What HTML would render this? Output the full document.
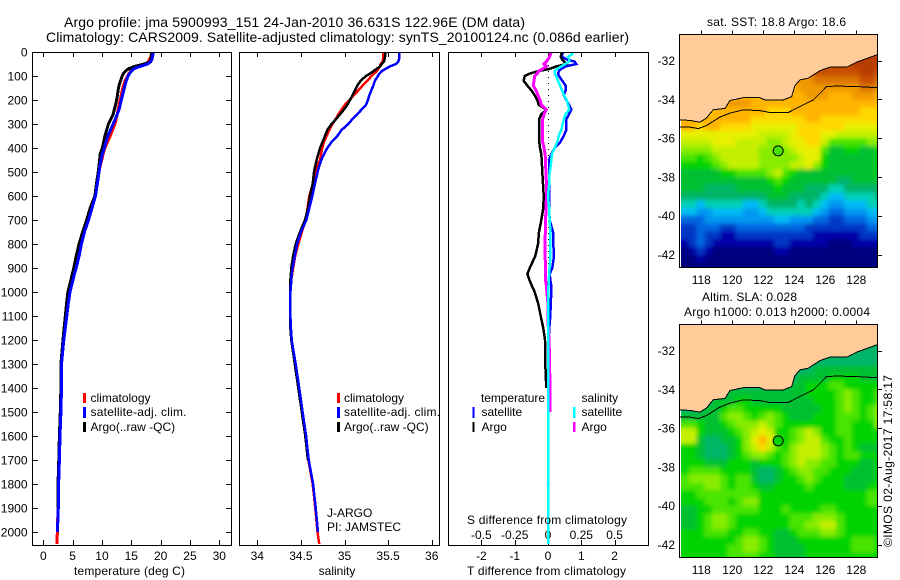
<!DOCTYPE html>
<html>
<head>
<meta charset="utf-8">
<title>Argo profile</title>
<style>
html,body{margin:0;padding:0;background:#fff;width:900px;height:580px;overflow:hidden}
svg{display:block}
text{font-family:"Liberation Sans",sans-serif;font-size:12px;fill:#000}
.t{font-size:14px}
</style>
</head>
<body>
<svg id="chart" xmlns="http://www.w3.org/2000/svg" width="900" height="580" viewBox="0 0 900 580">
<defs>
<filter id="soft" filterUnits="userSpaceOnUse" x="640" y="0" width="260" height="580"><feGaussianBlur stdDeviation="2.1"/></filter>
<clipPath id="clipMap1"><rect x="681" y="34.5" width="197" height="233"/></clipPath>
<clipPath id="clipMap2"><rect x="681" y="324.5" width="197" height="233"/></clipPath>
<clipPath id="clipFrame1"><rect x="680" y="34.5" width="198" height="233"/></clipPath>
<clipPath id="clipFrame2"><rect x="680" y="324.5" width="198" height="233"/></clipPath>
</defs>
<rect width="900" height="580" fill="#fff"/>
<text class="t" x="64" y="27" textLength="461">Argo profile: jma 5900993_151 24-Jan-2010 36.631S 122.96E (DM data)</text>
<text class="t" x="46" y="42" textLength="583">Climatology: CARS2009. Satellite-adjusted climatology: synTS_20100124.nc (0.086d earlier)</text>

<g id="p1"></g>
<g id="p2"></g>
<g id="p3"></g>
<g id="m1"></g>
<g id="m2"></g>

<rect x="32.5" y="52.5" width="199" height="493" fill="none" stroke="#000"/>
<rect x="239.5" y="52.5" width="200" height="493" fill="none" stroke="#000"/>
<rect x="448.5" y="52.5" width="200" height="493" fill="none" stroke="#000"/>
<rect x="679.5" y="34.5" width="198" height="233" fill="none" stroke="#000"/>
<rect x="679.5" y="324.5" width="198" height="233" fill="none" stroke="#000"/>

<text x="74" y="575" textLength="111">temperature (deg C)</text>
<text x="337" y="575" text-anchor="middle">salinity</text>
<text x="467" y="575" textLength="159">T difference from climatology</text>
<text x="467" y="524" textLength="160">S difference from climatology</text>

<g>
<rect x="83" y="393" width="3" height="10" fill="#f00"/>
<text x="90.5" y="402">climatology</text>
<rect x="83" y="407" width="3" height="11" fill="#00f"/>
<text x="90.5" y="416" textLength="96">satellite-adj. clim.</text>
<rect x="83" y="422" width="3" height="10" fill="#000"/>
<text x="90.5" y="431">Argo(..raw -QC)</text>
</g>
<g>
<rect x="337" y="393" width="3" height="10" fill="#f00"/>
<text x="344" y="402">climatology</text>
<rect x="337" y="407" width="3" height="11" fill="#00f"/>
<text x="344" y="416" textLength="96">satellite-adj. clim.</text>
<rect x="337" y="422" width="3" height="10" fill="#000"/>
<text x="344" y="431">Argo(..raw -QC)</text>
</g>
<g>
<text x="481" y="402" textLength="64">temperature</text>
<rect x="472.500" y="407" width="2" height="11" fill="#00f"/>
<text x="481.500" y="416">satellite</text>
<rect x="472.500" y="422" width="2" height="10" fill="#000"/>
<text x="481.500" y="431">Argo</text>
<text x="581.500" y="402">salinity</text>
<rect x="573" y="407" width="2.500" height="11" fill="#0ff"/>
<text x="581.500" y="416">satellite</text>
<rect x="573" y="422" width="2.500" height="10" fill="#f0f"/>
<text x="581.500" y="431">Argo</text>
</g>
<text x="327" y="517">J-ARGO</text>
<text x="327" y="531">PI: JAMSTEC</text>

<text x="707" y="26" textLength="139">sat. SST: 18.8 Argo: 18.6</text>
<text x="702" y="301" textLength="95">Altim. SLA: 0.028</text>
<text x="684" y="316" textLength="186">Argo h1000: 0.013 h2000: 0.0004</text>
<text transform="translate(892 547) rotate(-90)" textLength="172">©IMOS 02-Aug-2017 17:58:17</text>
</svg>

<script>
// ---------- profile data ----------
const depths = [0,10,20,30,40,50,60,70,80,90,100,120,140,160,180,200,220,240,260,280,300,325,350,375,400,425,450,475,500,550,600,650,700,750,800,850,900,925,950,975,1000,1050,1100,1150,1200,1300,1400,1500,1600,1700,1800,1900,2000,2050];
const tempClim = [18.5,18.4,18.3,18.1,17.9,17.5,16.5,15.3,14.9,14.6,14.4,13.95,13.65,13.45,13.3,13.1,12.9,12.75,12.6,12.4,12.2,11.8,11.4,10.95,10.5,10.2,9.95,9.7,9.45,9.05,8.8,8.2,7.6,6.9,6.4,6.0,5.5,5.2,5.0,4.75,4.5,4.2,3.95,3.7,3.45,3.05,3.05,2.95,2.8,2.7,2.55,2.5,2.4,2.3];
const tempSat = [18.7,18.7,18.6,18.55,18.3,17.8,16.5,15.4,15.0,14.7,14.45,14.15,13.9,13.7,13.5,13.3,13.1,12.9,12.6,12.25,11.9,11.45,11.0,10.7,10.4,10.05,9.85,9.65,9.5,9.2,8.9,8.3,7.7,7.0,6.5,6.1,5.6,5.3,5.05,4.8,4.55,4.25,4.0,3.75,3.5,3.1,3.1,3.0,2.85,2.75,2.6,2.55,2.4,null];
const tempArgo = [18.5,18.45,18.4,18.35,18.3,17.2,15.6,14.5,14.0,13.65,13.45,13.15,12.9,12.75,12.65,12.5,12.3,12.1,11.9,11.5,11.1,10.8,10.5,10.3,10.05,9.7,9.6,9.5,9.35,9.05,8.8,8.0,7.4,6.7,6.1,5.6,5.2,4.95,4.7,4.45,4.2,3.95,3.75,3.55,3.35,3.0,3.0,2.9,2.75,2.65,2.5,2.5,null,null];
const salClim = [35.445,35.445,35.441,35.441,35.437,35.414,35.407,35.388,35.369,35.338,35.311,35.261,35.208,35.158,35.109,35.055,35.005,34.967,34.929,34.898,34.860,34.826,34.795,34.765,34.745,34.730,34.719,34.692,34.673,34.635,34.596,34.577,34.554,34.51,34.47,34.435,34.41,34.40,34.39,34.385,34.38,34.38,34.38,34.385,34.39,34.43,34.47,34.51,34.55,34.585,34.635,34.665,34.69,34.71];
const salSat = [35.628,35.628,35.625,35.625,35.617,35.59,35.521,35.472,35.426,35.399,35.384,35.349,35.33,35.307,35.284,35.269,35.246,35.196,35.143,35.089,35.044,34.967,34.917,34.852,34.803,34.765,34.734,34.711,34.692,34.661,34.631,34.596,34.562,34.50,34.455,34.43,34.405,34.395,34.39,34.385,34.38,34.38,34.38,34.385,34.395,34.44,34.48,34.52,34.56,34.59,34.64,34.67,34.695,null];
const salArgo = [35.468,35.468,35.464,35.46,35.453,35.426,35.407,35.369,35.33,35.292,35.246,35.185,35.147,35.12,35.093,35.063,35.032,34.994,34.948,34.902,34.852,34.803,34.776,34.749,34.719,34.70,34.68,34.665,34.65,34.635,34.604,34.581,34.547,34.49,34.44,34.41,34.39,34.385,34.38,34.38,34.375,34.375,34.375,34.38,34.39,34.43,34.47,34.51,34.55,34.58,null,null,null,null];
const diffTSat = [.45,.43,.41,.55,.80,.85,.53,.40,.33,.30,.33,.43,.53,.53,.47,.55,.63,.70,.63,.55,.55,.55,.47,.37,.20,.10,.03,.03,.03,.03,.03,.03,.05,.15,.16,.18,.13,.05,.07,.10,.10,.08,.07,.04,.02,.02,.01,.01,.01,.01,0,0,0,null];
const diffTArgo = [.42,.40,.38,.42,.48,.55,.25,.05,-.30,-.55,-.70,-.73,-.62,-.50,-.40,-.32,-.28,-.05,-.20,-.27,-.27,-.27,-.27,-.26,-.24,-.20,-.19,-.18,-.17,-.15,-.13,-.14,-.20,-.27,-.30,-.38,-.55,-.62,-.56,-.48,-.40,-.29,-.22,-.14,-.09,-.08,-.05,null,null,null,null,null,null,null];
const diffSSat = [.18,.18,.15,.16,.16,.13,.10,.07,.05,.05,.06,.075,.09,.105,.12,.14,.15,.16,.13,.12,.11,.10,.08,.07,.05,.03,.025,.02,.012,.008,0,.008,.012,.018,.018,.018,.012,.008,.006,.004,.003,0,0,0,0,0,0,0,0,0,0,0,0,0];
const diffSArgo = [.025,.018,.012,0,-.012,-.03,-.012,-.04,-.07,-.08,-.10,-.105,-.11,-.09,-.075,-.06,-.05,-.012,-.03,-.04,-.04,-.04,-.04,-.04,-.03,-.022,-.018,-.018,-.015,-.012,-.012,-.015,-.018,-.02,-.022,-.022,-.018,-.02,-.018,-.012,-.008,0,0,.002,.008,.012,.015,.015,null,null,null,null,null,null];

// ---------- tick labels ----------
const depthTicks = [0,100,200,300,400,500,600,700,800,900,1000,1100,1200,1300,1400,1500,1600,1700,1800,1900,2000];
const tempTicks = [0,5,10,15,20,25,30];
const salTicks = [34,34.5,35,35.5,36];
const salTickLabels = ['34','34.5','35','35.5','36'];
const diffTTicks = [-2,-1,0,1,2];
const diffSTicks = [-0.5,-0.25,0,0.25,0.5];
const lonTicks = [118,120,122,124,126,128];
const latTicks = [-32,-34,-36,-38,-40,-42];

// ---------- map data ----------
const gridLon0 = 116.7, gridLat0 = -31.6, gridStep = [0.5, 0.4];
const rampColors = ['#00007f','#0000a8','#0038c4','#0068e0','#0098f0','#00bcf4','#00d0b4','#00b468','#00c030','#00d400','#48e400','#88ec00','#c4f000','#e8f000','#ffd800','#ffb400','#f09800','#dc7400','#c85000','#b83c00'];
const sstGrid = [
[15,15,15,15,16,16,16,16,16,16,16,16,16,16,16,17,17,18,18,18,18,18,19,19,19,19],
[15,15,15,15,16,16,16,16,16,16,16,16,16,16,16,17,17,18,18,18,18,18,19,19,19,19],
[15,15,15,15,16,16,16,16,16,16,16,16,16,16,16,17,17,18,18,18,18,18,18,19,19,18],
[15,15,15,15,16,16,16,16,16,16,16,16,16,16,16,16,16,17,17,17,17,17,17,18,18,17],
[15,15,15,15,16,16,16,16,16,16,16,16,16,16,15,16,16,16,16,16,16,16,16,17,17,16],
[14,14,14,14,15,15,15,15,15,15,15,15,15,15,15,15,16,16,16,15,15,15,16,16,16,15],
[14,14,14,14,15,15,16,16,16,15,15,15,15,15,15,15,15,15,15,15,15,15,15,15,15,15],
[14,14,14,14,15,15,15,15,15,15,15,14,14,14,15,15,15,15,15,15,15,15,15,14,14,14],
[15,15,15,15,15,15,15,15,15,14,14,14,14,14,14,14,15,15,14,14,14,14,14,14,14,14],
[15,15,14,15,15,14,14,14,14,13,13,13,13,13,13,14,14,14,14,14,14,13,13,13,13,13],
[13,13,13,13,13,13,13,13,13,13,12,12,12,12,13,14,14,14,13,13,12,12,12,12,12,12],
[12,12,12,12,13,13,13,12,12,12,12,11,11,12,13,13,14,14,12,10,10,10,10,10,11,11],
[11,11,11,11,12,12,12,12,12,12,11,11,11,11,12,13,13,13,10,8,8,9,9,8,8,9],
[10,10,9,10,11,12,12,12,12,12,11,11,11,11,11,12,13,13,9,8,8,8,8,8,8,9],
[9,9,9,9,10,11,12,12,12,12,11,11,11,11,12,12,13,11,9,8,8,8,8,8,8,9],
[8,8,8,8,8,9,9,10,10,10,10,11,12,10,9,8,8,8,8,8,8,8,8,8,8,9],
[8,8,8,8,8,8,8,8,8,8,8,9,10,9,8,8,8,8,8,8,7,7,8,8,8,8],
[8,8,8,7,7,7,7,8,8,8,8,8,9,8,8,8,7,7,7,6,6,7,7,7,7,7],
[7,7,7,7,7,7,7,7,7,7,7,8,8,8,7,7,7,7,6,5,5,6,6,6,6,7],
[6,6,5,6,6,6,6,6,5,5,6,7,7,7,7,6,7,6,5,4,4,5,5,5,6,6],
[5,5,4,4,5,5,5,5,4,4,5,6,6,6,6,6,6,5,4,3,3,4,4,4,5,5],
[3,3,3,4,4,4,4,4,4,4,4,4,5,5,4,4,4,3,3,2,2,3,3,3,4,4],
[2,2,3,3,3,2,2,3,3,3,3,3,3,3,3,3,2,2,2,2,2,2,2,2,3,3],
[2,2,3,2,2,1,1,2,2,2,2,2,2,2,2,2,2,1,1,1,1,1,1,2,2,2],
[1,2,3,2,1,1,1,1,1,1,1,1,2,2,1,1,1,1,1,0,0,0,1,1,1,1],
[0,1,2,1,0,0,0,0,0,0,0,0,1,1,0,0,0,0,0,0,0,0,0,0,0,0],
[0,0,1,0,0,0,0,0,0,0,0,0,0,0,0,0,0,0,0,0,0,0,0,0,0,0],
[0,0,0,0,0,0,0,0,0,0,0,0,0,0,0,0,0,0,0,0,0,0,0,0,0,0]
];
const slaGrid = [
[7,7,7,7,7,7,7,7,7,7,7,7,7,7,7,7,7,7,7,7,7,7,7,7,7,7],
[7,7,7,7,7,7,7,7,7,7,7,7,7,7,7,7,7,7,7,7,7,7,7,7,7,7],
[7,7,7,7,7,7,7,7,7,7,7,7,7,7,7,7,7,7,7,7,7,7,7,7,7,7],
[7,7,7,7,7,7,7,7,7,7,7,7,7,7,7,7,7,8,8,8,8,8,8,8,8,8],
[7,7,7,7,7,7,7,7,7,7,7,7,7,7,7,8,8,8,8,9,9,9,9,8,8,8],
[7,7,7,7,7,7,7,7,7,7,7,7,7,7,8,8,9,9,9,10,10,9,9,9,9,9],
[7,7,7,7,7,7,8,8,8,8,8,8,8,8,8,8,9,9,9,9,10,11,10,9,9,10],
[7,7,7,7,8,8,8,9,9,8,8,8,8,8,8,8,8,9,9,9,10,11,10,9,9,10],
[7,7,7,8,8,9,10,10,9,9,9,9,9,8,8,8,8,8,9,9,10,11,10,9,10,11],
[8,8,8,8,8,10,11,11,10,9,10,11,10,9,8,8,8,9,9,9,10,10,10,9,10,11],
[10,10,9,8,8,9,10,11,11,11,12,11,10,9,9,9,9,9,9,9,10,10,9,9,9,11],
[12,12,9,8,8,8,9,10,11,12,13,12,9,9,10,11,12,11,9,9,10,10,9,9,9,9],
[12,12,8,7,7,8,8,9,11,13,15,13,10,9,10,11,12,12,10,9,9,10,9,9,9,9],
[9,9,8,7,7,7,8,9,11,12,14,12,10,9,11,12,12,12,11,10,9,10,9,8,8,8],
[9,9,8,7,7,7,8,9,10,11,11,10,9,10,11,12,12,12,11,10,9,10,10,9,9,9],
[9,9,9,8,8,8,9,9,9,8,9,9,9,10,11,12,11,11,10,10,9,9,9,8,8,9],
[9,10,10,10,10,9,9,9,9,8,7,7,8,9,10,11,11,10,10,9,9,9,8,8,8,9],
[10,11,11,11,11,10,9,10,10,8,7,7,8,9,9,10,11,10,9,9,9,8,8,8,8,9],
[10,10,10,11,11,10,9,10,10,9,8,8,9,9,9,9,10,9,9,9,9,8,8,8,9,9],
[9,9,10,10,10,10,10,10,10,10,9,9,9,9,9,9,9,9,9,9,9,9,9,9,10,10],
[9,9,9,10,10,10,9,10,11,11,9,9,9,9,9,9,9,9,9,9,9,9,9,9,10,10],
[8,8,9,9,10,10,10,10,10,10,9,9,9,10,9,9,9,9,10,10,9,9,9,9,9,9],
[8,8,9,10,11,11,10,9,9,9,9,9,9,9,10,10,10,11,11,11,10,9,9,9,9,9],
[8,8,9,10,11,11,10,9,9,9,9,9,9,9,10,10,11,11,12,12,10,9,9,9,9,9],
[9,9,9,10,10,10,9,9,10,10,9,9,8,8,9,10,10,10,11,11,10,9,9,9,9,9],
[9,9,9,9,9,9,9,10,11,11,10,9,8,8,8,9,9,9,9,9,9,9,10,10,10,9],
[9,9,9,9,9,9,10,10,11,11,10,9,8,8,8,8,9,9,9,9,9,9,10,10,10,9],
[9,9,9,9,9,9,10,10,10,10,9,9,8,8,8,8,9,9,9,9,9,9,9,9,9,9]
];
const coastLon = [116.62,117.27,117.91,118.34,118.77,119.53,119.85,120.71,121.78,122.11,123.29,123.83,124.04,124.37,124.9,125.66,126.3,127.38,128.02,129.31,129.5];
const coastLat = [-35.06,-35.09,-35.18,-34.96,-34.54,-34.47,-34.06,-33.92,-33.92,-34.03,-34.03,-33.86,-33.29,-33.0,-32.91,-32.52,-32.34,-32.34,-32.09,-31.71,-31.68];
const shelfLon = [116.62,117.27,117.81,118.34,119.2,119.85,120.71,121.78,122.43,123.61,124.26,125.23,126.09,126.73,128.02,129.5];
const shelfLat = [-35.44,-35.44,-35.51,-35.35,-34.92,-34.71,-34.54,-34.58,-34.68,-34.68,-34.41,-34.03,-33.34,-33.32,-33.34,-33.41];
const argoLon = 122.96;
const argoLat = -36.631;
const argoSstValue = 9.5;
const argoSlaValue = 9;

// ---------- scales ----------
const yDepth = d => 52 + 0.24 * d;
const xTemp = v => 43.3 + 5.867 * v;
const xSal = v => 257.3 + 87.2 * (v - 34);
const xDiffT = v => 548 + 33.3 * v;
const xDiffS = v => 548 + 133.2 * v;
const xLon = v => 701.3 + 15.5 * (v - 118);
const yLat1 = v => 60.5 + 19.4 * (-32 - v);
const yLat2 = v => 350.5 + 19.4 * (-32 - v);

const NS = 'http://www.w3.org/2000/svg';
function mk(tag, parent, attrs) {
  const node = document.createElementNS(NS, tag);
  for (const k in attrs) node.setAttribute(k, attrs[k]);
  parent.appendChild(node);
  return node;
}

function drawProfile(parent, values, xf, color, width, name) {
  let run = [];
  const flush = () => {
    if (run.length > 1) {
      const line = mk('polyline', parent, {points: run.join(' '), fill: 'none', stroke: color, 'stroke-width': width, 'shape-rendering': 'crispEdges'});
      
      
    }
    run = [];
  };
  values.forEach((v, i) => {
    if (v === null) flush();
    else run.push(xf(v).toFixed(1) + ',' + yDepth(depths[i]).toFixed(1));
  });
  flush();
}

function xAxisMarks(parent, ticks, labels, xf, labelY, drawTop) {
  ticks.forEach((t, i) => {
    const x = Math.round(xf(t)) + 0.5;
    const bottomTick = mk('line', parent, {x1: x, x2: x, y1: 540, y2: 545, stroke: '#000'});
    
    
    if (drawTop) {
      const topTick = mk('line', parent, {x1: x, x2: x, y1: 52, y2: 57, stroke: '#000'});
      
      
    }
    const label = mk('text', parent, {x: xf(t), y: labelY, 'text-anchor': 'middle'});
    label.textContent = labels[i];
    
    
  });
}

// ---------- panel 1 ----------
const p1 = document.getElementById('p1');
depthTicks.forEach(d => {
  const y = Math.round(yDepth(d)) + 0.5;
  [[33, 38], [226, 231]].forEach(pair => {
    const tick = mk('line', p1, {x1: pair[0], x2: pair[1], y1: y, y2: y, stroke: '#000'});
    
    
  });
  const label = mk('text', p1, {x: 27.5, y: yDepth(d) + 4.5, 'text-anchor': 'end'});
  label.textContent = d;
  
  
});
xAxisMarks(p1, tempTicks, tempTicks, xTemp, 560, true);
drawProfile(p1, tempClim, xTemp, '#f00', 3, 'temperature-climatology-line');
drawProfile(p1, tempArgo, xTemp, '#000', 3, 'temperature-argo-line');
drawProfile(p1, tempSat, xTemp, '#00f', 3, 'temperature-satellite-line');

// ---------- panel 2 ----------
const p2 = document.getElementById('p2');
xAxisMarks(p2, salTicks, salTickLabels, xSal, 560, true);
drawProfile(p2, salClim, xSal, '#f00', 2.5, 'salinity-climatology-line');
drawProfile(p2, salArgo, xSal, '#000', 2.5, 'salinity-argo-line');
drawProfile(p2, salSat, xSal, '#00f', 2.5, 'salinity-satellite-line');

// ---------- panel 3 ----------
const p3 = document.getElementById('p3');
xAxisMarks(p3, diffTTicks, diffTTicks, xDiffT, 560, true);
diffSTicks.forEach((t, i) => {
  const label = mk('text', p3, {x: xDiffS(t), y: 539, 'text-anchor': 'middle'});
  label.textContent = t === 0 ? '0' : String(t);
  
  
});
const zeroLine = mk('line', p3, {x1: 548.5, x2: 548.5, y1: 53, y2: 545, stroke: '#000', 'stroke-dasharray': '1 5'});


drawProfile(p3, diffTSat, xDiffT, '#00f', 2.5, 't-difference-satellite-line');
drawProfile(p3, diffTArgo, xDiffT, '#000', 2.5, 't-difference-argo-line');
drawProfile(p3, diffSArgo, xDiffS, '#f0f', 3, 's-difference-argo-line');
drawProfile(p3, diffSSat, xDiffS, '#0ff', 2.5, 's-difference-satellite-line');

// ---------- maps ----------
function drawMap(rootId, grid, yLat, clipId, frameClipId, bottom, argoValue, labelY) {
  const root = document.getElementById(rootId);
  const heatClip = mk('g', root, {'clip-path': 'url(#' + clipId + ')'});
  
  
  const heat = mk('g', heatClip, {filter: 'url(#soft)'});
  
  
  grid.forEach((row, i) => {
    row.forEach((v, j) => {
      const lonA = gridLon0 + j * gridStep[0];
      const latA = gridLat0 - i * gridStep[1];
      const extraL = j === 0 ? 12 : 0;
      const extraB = i === grid.length - 1 ? 12 : 0;
      const cell = mk('rect', heat, {
        x: (xLon(lonA) - extraL).toFixed(2),
        y: yLat(latA).toFixed(2),
        width: (15.5 * gridStep[0] + extraL + 0.5).toFixed(2),
        height: (19.4 * gridStep[1] + extraB + 0.5).toFixed(2),
        fill: rampColors[v],
        'shape-rendering': 'crispEdges'
      });
      
      
    });
  });
  const over = mk('g', root, {'clip-path': 'url(#' + frameClipId + ')'});
  
  
  const coastPts = coastLon.map((lon, i) => xLon(lon).toFixed(1) + ',' + yLat(coastLat[i]).toFixed(1));
  const land = mk('polygon', over, {
    points: xLon(116).toFixed(1) + ',' + yLat(-30).toFixed(1) + ' ' + xLon(116).toFixed(1) + ',' + yLat(coastLat[0]).toFixed(1) + ' ' + coastPts.join(' ') + ' ' + xLon(130).toFixed(1) + ',' + yLat(-30).toFixed(1),
    fill: '#ffcc99'
  });
  
  
  const coast = mk('polyline', over, {points: coastPts.join(' '), fill: 'none', stroke: '#000', 'stroke-width': 1, 'shape-rendering': 'crispEdges'});
  
  
  const shelfPts = shelfLon.map((lon, i) => xLon(lon).toFixed(1) + ',' + yLat(shelfLat[i]).toFixed(1));
  const shelf = mk('polyline', over, {points: shelfPts.join(' '), fill: 'none', stroke: '#000', 'stroke-width': 1, 'shape-rendering': 'crispEdges'});
  
  
  const marker = mk('circle', over, {cx: xLon(argoLon), cy: yLat(argoLat) + 0.5, r: 5, fill: rampColors[Math.round(argoValue)], stroke: '#000', 'stroke-width': 1});
  
  
  lonTicks.forEach(lon => {
    const x = Math.round(xLon(lon)) + 0.5;
    const tick = mk('line', root, {x1: x, x2: x, y1: bottom - 237, y2: bottom - 233, stroke: '#000'});
    
    
    const label = mk('text', root, {x: xLon(lon), y: labelY, 'text-anchor': 'middle'});
    label.textContent = lon;
    
    
  });
  latTicks.forEach(lat => {
    const y = Math.round(yLat(lat)) + 0.5;
    const tick = mk('line', root, {x1: 878, x2: 882, y1: y, y2: y, stroke: '#000'});
    
    
    const label = mk('text', root, {x: 675, y: yLat(lat) + 4.5, 'text-anchor': 'end'});
    label.textContent = lat;
    
    
  });
}
drawMap('m1', sstGrid, yLat1, 'clipMap1', 'clipFrame1', 267.5, argoSstValue, 284);
drawMap('m2', slaGrid, yLat2, 'clipMap2', 'clipFrame2', 557.5, argoSlaValue, 574);
</script>
</body>
</html>
